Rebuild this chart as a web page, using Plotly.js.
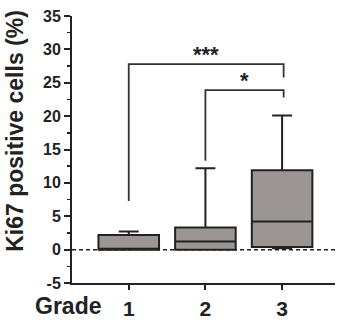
<!DOCTYPE html>
<html>
<head>
<meta charset="utf-8">
<script src="https://cdn.plot.ly/plotly-3.0.1.min.js"></script>
<style>html,body{margin:0;padding:0;background:#fff;}#chart{width:338px;height:322px;}</style>
</head>
<body>
<div id="chart"></div>
<script>
// Data
var grades = ['1', '2', '3'];
var lowerWhisker = [0, 0, 0.2];
var q1Values = [0, 0, 0.4];
var medianValues = [0.1, 1.2, 4.2];
var q3Values = [2.2, 3.3, 11.9];
var upperWhisker = [2.7, 12.2, 20.1];
var yTickValues = [-5, 0, 5, 10, 15, 20, 25, 30, 35];

// Significance brackets
var bracketFrom = ['1', '2'];
var bracketTo = ['3', '3'];
var bracketTop = [27.8, 23.9];
var bracketLeftEnd = [7.3, 13.3];
var bracketRightEnd = [25.8, 22.8];
var bracketLabels = ['***', '*'];

var font = 'Liberation Sans, Arial, sans-serif';
function b(s) { return '<b>' + s + '</b>'; }

var trace = {
  type: 'box',
  x: grades,
  q1: q1Values,
  median: medianValues,
  q3: q3Values,
  lowerfence: lowerWhisker,
  upperfence: upperWhisker,
  boxpoints: false,
  width: 0.79,
  whiskerwidth: 0.33,
  fillcolor: '#9b9693',
  line: {color: '#222', width: 2},
  hoverinfo: 'skip',
  showlegend: false
};

var shapes = [{
  type: 'line', xref: 'paper', yref: 'y', x0: 0, x1: 1, y0: 0, y1: 0,
  line: {color: '#222', width: 1.5, dash: '4px,3px'}, layer: 'below'
}];
var annotations = [];
for (var i = 0; i < bracketLabels.length; i++) {
  var xa = grades.indexOf(bracketFrom[i]), xb = grades.indexOf(bracketTo[i]) + 0.02;
  shapes.push({type: 'path', xref: 'x', yref: 'y',
    path: 'M ' + xa + ',' + bracketLeftEnd[i] +
          ' L ' + xa + ',' + bracketTop[i] +
          ' L ' + xb + ',' + bracketTop[i] +
          ' L ' + xb + ',' + bracketRightEnd[i],
    line: {color: '#333', width: 1.8}});
  annotations.push({xref: 'x', yref: 'y',
    x: (xa + xb) / 2, y: bracketTop[i], yanchor: 'bottom', showarrow: false,
    text: b(bracketLabels[i]), yshift: -5,
    font: {family: font, size: 22, color: '#222'}});
}
annotations.push({xref: 'paper', yref: 'paper', x: 0.118, y: 0, xanchor: 'right', yanchor: 'top',
  yshift: -8, showarrow: false, text: b('Grade'),
  font: {family: font, size: 23, color: '#222'}});
// y-axis title (placed as annotation to match its vertical position)
annotations.push({xref: 'paper', yref: 'paper', x: -0.274, y: 0.57, xanchor: 'left', yanchor: 'middle',
  textangle: -90, showarrow: false, text: b('Ki67 positive cells (%)'),
  font: {family: font, size: 23, color: '#222'}});

var layout = {
  width: 338, height: 322,
  margin: {l: 72, r: 3, t: 16, b: 39},
  paper_bgcolor: '#fff', plot_bgcolor: '#fff',
  xaxis: {
    type: 'category', range: [-0.74, 2.69],
    tickvals: grades, ticktext: grades.map(b),
    showline: true, linecolor: '#222', linewidth: 2,
    ticks: 'outside', ticklen: 5, tickwidth: 2, tickcolor: '#222',
    showgrid: false, zeroline: false, ticklabelstandoff: 1,
    tickfont: {family: font, size: 21, color: '#222'}
  },
  yaxis: {
    range: [-5, 35], tickvals: yTickValues, ticktext: yTickValues.map(function (v) { return b(v); }),
    showline: true, linecolor: '#222', linewidth: 2,
    ticks: 'outside', ticklen: 6, tickwidth: 2, tickcolor: '#222',
    showgrid: false, zeroline: false,
    minor: {dtick: 2.5, tick0: 0, ticks: 'outside', ticklen: 3, tickwidth: 1.5, tickcolor: '#222'},
    tickfont: {family: font, size: 16, color: '#222'}
  },
  shapes: shapes,
  annotations: annotations
};

Plotly.newPlot('chart', [trace], layout, {displayModeBar: false, staticPlot: true});
</script>
</body>
</html>
